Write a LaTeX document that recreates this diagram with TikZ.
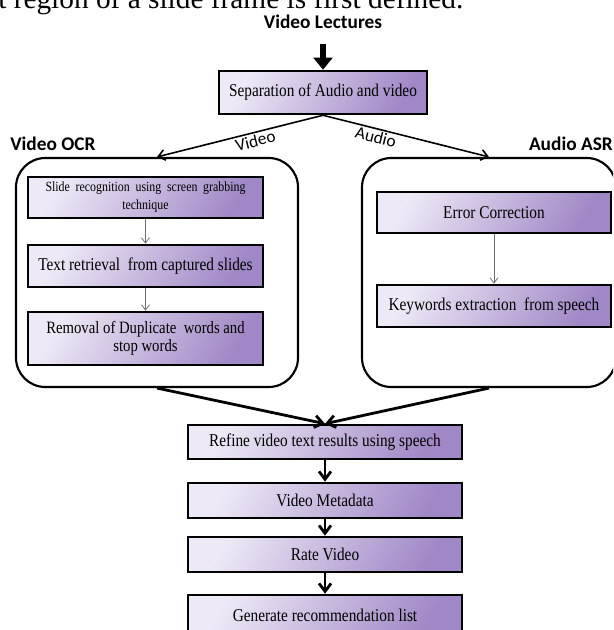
\documentclass[tikz,border=0pt]{standalone}
\usepackage{fontspec}
\setmainfont{Liberation Serif}
\newfontfamily\boxfont[FakeStretch=0.85]{Liberation Serif}
\newfontfamily\calfont{Carlito}
\usetikzlibrary{arrows.meta}
\definecolor{boxlight}{HTML}{EEE9F6}
\definecolor{boxdark}{HTML}{A088C6}
\definecolor{thingray}{HTML}{707070}
\tikzset{
  stepbox/.style={draw, line width=1.9pt, top color=boxlight, bottom color=boxdark,
    shading angle=60, inner sep=2pt, align=center,
    font=\boxfont\fontsize{13.5}{15}\selectfont},
  groupbox/.style={draw, line width=1.6pt, rounded corners=22pt},
  grouptitle/.style={font=\calfont\bfseries\fontsize{14.5}{16}\selectfont, inner sep=0pt},
  splitlabel/.style={font=\calfont\fontsize{13}{15}\selectfont, inner sep=1pt},
  fatarrow/.style={line width=5pt, -{Triangle[length=9pt,width=14pt]}},
  splitline/.style={line width=1.2pt, -{Straight Barb[length=5pt,width=8pt]}},
  thinarrow/.style={thingray, line width=0.6pt, -{Straight Barb[length=4pt,width=6pt]}},
  flowarrow/.style={line width=2.1pt, -{Straight Barb[length=6pt,width=9pt]}}
}
\begin{document}
\begin{tikzpicture}[x=0.75pt,y=-0.75pt]
  \fill[white] (0,0) rectangle (613,630);
  \useasboundingbox (0,0) rectangle (613,630);
  \clip (0,0) rectangle (613,630);
  % abgeschnittene Zeile oben
  \node[anchor=base west, inner sep=0pt, font=\fontsize{22}{22}\selectfont] (cutline) at (-2,9)
    {t region of a slide frame is first defined.};
  % Titel
  \node[grouptitle] (lect) at (323,22) {Video Lectures};
  \node[grouptitle, anchor=west] (ocrtitle) at (10,144) {Video OCR};
  \node[grouptitle, anchor=east] (asrtitle) at (613,144) {Audio ASR};
  % Gruppen
  \node[groupbox, minimum width=211.5pt, minimum height=171.75pt] (ocr) at (157,272.5) {};
  \node[groupbox, minimum width=190.5pt, minimum height=171.75pt] (asr) at (489,272.5) {};
  % Kaesten oben
  \node[stepbox, minimum width=156pt, minimum height=32.25pt] (sep) at (323,92.5)
    {Separation of Audio and video};
  % Video OCR
  \node[stepbox, minimum width=176.25pt, minimum height=30.75pt,
    font=\boxfont\fontsize{10.5}{13.5}\selectfont] (slide) at (145.5,197.5)
    {\makebox[150pt][s]{Slide recognition using screen grabbing}\\technique};
  \node[stepbox, minimum width=176.25pt, minimum height=31.5pt] (textret) at (145.5,266)
    {Text retrieval \ from captured slides};
  \node[stepbox, minimum width=176.25pt, minimum height=39.75pt,
    font=\boxfont\fontsize{13}{13.5}\selectfont] (removal) at (145.5,338.5)
    {Removal of Duplicate \ words and\\stop words};
  % Audio ASR
  \node[stepbox, minimum width=175.5pt, minimum height=30.75pt] (errcorr) at (494,212.5)
    {Error Correction};
  \node[stepbox, minimum width=175.5pt, minimum height=31.5pt] (keyw) at (494,306)
    {Keywords extraction \ from speech};
  % Kaesten unten
  \node[stepbox, minimum width=205.5pt, minimum height=25.5pt] (refine) at (325,442)
    {Refine video text results using speech};
  \node[stepbox, minimum width=205.5pt, minimum height=26.25pt] (meta) at (325,500.5)
    {Video Metadata};
  \node[stepbox, minimum width=205.5pt, minimum height=26.25pt] (rate) at (325,554.5)
    {Rate Video};
  \node[stepbox, minimum width=205.5pt, minimum height=30pt] (gen) at (325,615)
    {Generate recommendation list};
  % Pfeile
  \draw[fatarrow, shorten <=11pt] (lect) -- (sep);
  \draw[splitline] (sep.south) -- node[splitlabel, sloped, below, pos=0.42] {Video} (ocr.north);
  \draw[splitline] (sep.south) -- node[splitlabel, sloped, below, pos=0.33] {Audio} (asr.north);
  \draw[thinarrow] (slide) -- (textret);
  \draw[thinarrow] (textret) -- (removal);
  \draw[thinarrow] (errcorr) -- (keyw);
  \draw[flowarrow] (ocr.south) -- (refine.north);
  \draw[flowarrow] (asr.south) -- (refine.north);
  \draw[flowarrow] (refine) -- (meta);
  \draw[flowarrow] (meta) -- (rate);
  \draw[flowarrow] (rate) -- (gen);
\end{tikzpicture}
\end{document}
